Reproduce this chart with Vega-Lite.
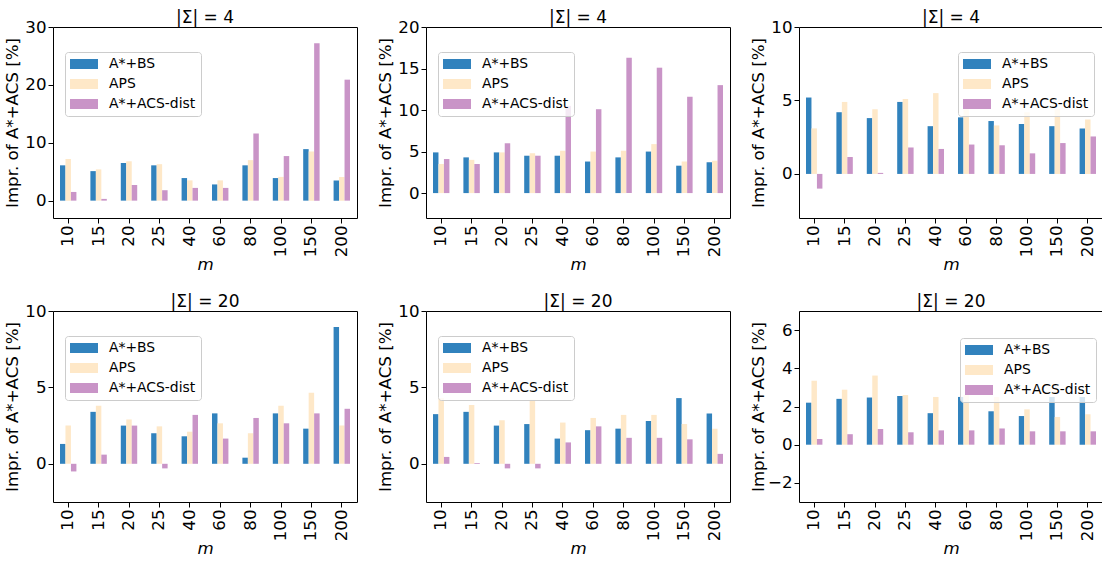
{
"$schema": "https://vega.github.io/schema/vega-lite/v6.json",
"background": "white",
"padding": {"left": 3, "top": 8, "right": 0, "bottom": 0},
"data": {"values": [
{"p":1,"m":"10","s":"A*+BS","v":6.1},{"p":1,"m":"15","s":"A*+BS","v":5.1},{"p":1,"m":"20","s":"A*+BS","v":6.5},{"p":1,"m":"25","s":"A*+BS","v":6.1},{"p":1,"m":"40","s":"A*+BS","v":3.9},{"p":1,"m":"60","s":"A*+BS","v":2.8},{"p":1,"m":"80","s":"A*+BS","v":6.1},{"p":1,"m":"100","s":"A*+BS","v":3.9},{"p":1,"m":"150","s":"A*+BS","v":8.9},{"p":1,"m":"200","s":"A*+BS","v":3.5},
{"p":1,"m":"10","s":"APS","v":7.2},{"p":1,"m":"15","s":"APS","v":5.4},{"p":1,"m":"20","s":"APS","v":6.8},{"p":1,"m":"25","s":"APS","v":6.3},{"p":1,"m":"40","s":"APS","v":3.5},{"p":1,"m":"60","s":"APS","v":3.5},{"p":1,"m":"80","s":"APS","v":7.0},{"p":1,"m":"100","s":"APS","v":4.1},{"p":1,"m":"150","s":"APS","v":8.5},{"p":1,"m":"200","s":"APS","v":4.1},
{"p":1,"m":"10","s":"A*+ACS-dist","v":1.5},{"p":1,"m":"15","s":"A*+ACS-dist","v":0.3},{"p":1,"m":"20","s":"A*+ACS-dist","v":2.7},{"p":1,"m":"25","s":"A*+ACS-dist","v":1.8},{"p":1,"m":"40","s":"A*+ACS-dist","v":2.2},{"p":1,"m":"60","s":"A*+ACS-dist","v":2.2},{"p":1,"m":"80","s":"A*+ACS-dist","v":11.6},{"p":1,"m":"100","s":"A*+ACS-dist","v":7.7},{"p":1,"m":"150","s":"A*+ACS-dist","v":27.2},{"p":1,"m":"200","s":"A*+ACS-dist","v":20.9},
{"p":2,"m":"10","s":"A*+BS","v":4.9},{"p":2,"m":"15","s":"A*+BS","v":4.3},{"p":2,"m":"20","s":"A*+BS","v":4.9},{"p":2,"m":"25","s":"A*+BS","v":4.5},{"p":2,"m":"40","s":"A*+BS","v":4.5},{"p":2,"m":"60","s":"A*+BS","v":3.8},{"p":2,"m":"80","s":"A*+BS","v":4.3},{"p":2,"m":"100","s":"A*+BS","v":5.0},{"p":2,"m":"150","s":"A*+BS","v":3.3},{"p":2,"m":"200","s":"A*+BS","v":3.7},
{"p":2,"m":"10","s":"APS","v":3.5},{"p":2,"m":"15","s":"APS","v":4.0},{"p":2,"m":"20","s":"APS","v":4.9},{"p":2,"m":"25","s":"APS","v":4.8},{"p":2,"m":"40","s":"APS","v":5.1},{"p":2,"m":"60","s":"APS","v":5.0},{"p":2,"m":"80","s":"APS","v":5.1},{"p":2,"m":"100","s":"APS","v":5.9},{"p":2,"m":"150","s":"APS","v":3.8},{"p":2,"m":"200","s":"APS","v":3.9},
{"p":2,"m":"10","s":"A*+ACS-dist","v":4.1},{"p":2,"m":"15","s":"A*+ACS-dist","v":3.5},{"p":2,"m":"20","s":"A*+ACS-dist","v":6.0},{"p":2,"m":"25","s":"A*+ACS-dist","v":4.5},{"p":2,"m":"40","s":"A*+ACS-dist","v":10.5},{"p":2,"m":"60","s":"A*+ACS-dist","v":10.1},{"p":2,"m":"80","s":"A*+ACS-dist","v":16.3},{"p":2,"m":"100","s":"A*+ACS-dist","v":15.1},{"p":2,"m":"150","s":"A*+ACS-dist","v":11.6},{"p":2,"m":"200","s":"A*+ACS-dist","v":13.0},
{"p":3,"m":"10","s":"A*+BS","v":5.2},{"p":3,"m":"15","s":"A*+BS","v":4.2},{"p":3,"m":"20","s":"A*+BS","v":3.8},{"p":3,"m":"25","s":"A*+BS","v":4.9},{"p":3,"m":"40","s":"A*+BS","v":3.25},{"p":3,"m":"60","s":"A*+BS","v":3.85},{"p":3,"m":"80","s":"A*+BS","v":3.6},{"p":3,"m":"100","s":"A*+BS","v":3.4},{"p":3,"m":"150","s":"A*+BS","v":3.25},{"p":3,"m":"200","s":"A*+BS","v":3.1},
{"p":3,"m":"10","s":"APS","v":3.1},{"p":3,"m":"15","s":"APS","v":4.9},{"p":3,"m":"20","s":"APS","v":4.4},{"p":3,"m":"25","s":"APS","v":5.1},{"p":3,"m":"40","s":"APS","v":5.5},{"p":3,"m":"60","s":"APS","v":4.4},{"p":3,"m":"80","s":"APS","v":3.3},{"p":3,"m":"100","s":"APS","v":4.2},{"p":3,"m":"150","s":"APS","v":4.4},{"p":3,"m":"200","s":"APS","v":3.7},
{"p":3,"m":"10","s":"A*+ACS-dist","v":-1.0},{"p":3,"m":"15","s":"A*+ACS-dist","v":1.15},{"p":3,"m":"20","s":"A*+ACS-dist","v":0.07},{"p":3,"m":"25","s":"A*+ACS-dist","v":1.8},{"p":3,"m":"40","s":"A*+ACS-dist","v":1.7},{"p":3,"m":"60","s":"A*+ACS-dist","v":2.0},{"p":3,"m":"80","s":"A*+ACS-dist","v":1.95},{"p":3,"m":"100","s":"A*+ACS-dist","v":1.4},{"p":3,"m":"150","s":"A*+ACS-dist","v":2.1},{"p":3,"m":"200","s":"A*+ACS-dist","v":2.55},
{"p":4,"m":"10","s":"A*+BS","v":1.3},{"p":4,"m":"15","s":"A*+BS","v":3.4},{"p":4,"m":"20","s":"A*+BS","v":2.5},{"p":4,"m":"25","s":"A*+BS","v":2.0},{"p":4,"m":"40","s":"A*+BS","v":1.8},{"p":4,"m":"60","s":"A*+BS","v":3.3},{"p":4,"m":"80","s":"A*+BS","v":0.4},{"p":4,"m":"100","s":"A*+BS","v":3.3},{"p":4,"m":"150","s":"A*+BS","v":2.3},{"p":4,"m":"200","s":"A*+BS","v":8.95},
{"p":4,"m":"10","s":"APS","v":2.5},{"p":4,"m":"15","s":"APS","v":3.8},{"p":4,"m":"20","s":"APS","v":2.9},{"p":4,"m":"25","s":"APS","v":2.45},{"p":4,"m":"40","s":"APS","v":2.1},{"p":4,"m":"60","s":"APS","v":2.65},{"p":4,"m":"80","s":"APS","v":2.0},{"p":4,"m":"100","s":"APS","v":3.8},{"p":4,"m":"150","s":"APS","v":4.65},{"p":4,"m":"200","s":"APS","v":2.5},
{"p":4,"m":"10","s":"A*+ACS-dist","v":-0.5},{"p":4,"m":"15","s":"A*+ACS-dist","v":0.6},{"p":4,"m":"20","s":"A*+ACS-dist","v":2.5},{"p":4,"m":"25","s":"A*+ACS-dist","v":-0.3},{"p":4,"m":"40","s":"A*+ACS-dist","v":3.2},{"p":4,"m":"60","s":"A*+ACS-dist","v":1.65},{"p":4,"m":"80","s":"A*+ACS-dist","v":3.0},{"p":4,"m":"100","s":"A*+ACS-dist","v":2.65},{"p":4,"m":"150","s":"A*+ACS-dist","v":3.3},{"p":4,"m":"200","s":"A*+ACS-dist","v":3.6},
{"p":5,"m":"10","s":"A*+BS","v":3.25},{"p":5,"m":"15","s":"A*+BS","v":3.4},{"p":5,"m":"20","s":"A*+BS","v":2.5},{"p":5,"m":"25","s":"A*+BS","v":2.6},{"p":5,"m":"40","s":"A*+BS","v":1.65},{"p":5,"m":"60","s":"A*+BS","v":2.2},{"p":5,"m":"80","s":"A*+BS","v":2.3},{"p":5,"m":"100","s":"A*+BS","v":2.8},{"p":5,"m":"150","s":"A*+BS","v":4.3},{"p":5,"m":"200","s":"A*+BS","v":3.3},
{"p":5,"m":"10","s":"APS","v":4.3},{"p":5,"m":"15","s":"APS","v":3.85},{"p":5,"m":"20","s":"APS","v":2.85},{"p":5,"m":"25","s":"APS","v":4.2},{"p":5,"m":"40","s":"APS","v":2.7},{"p":5,"m":"60","s":"APS","v":3.0},{"p":5,"m":"80","s":"APS","v":3.2},{"p":5,"m":"100","s":"APS","v":3.2},{"p":5,"m":"150","s":"APS","v":2.6},{"p":5,"m":"200","s":"APS","v":2.3},
{"p":5,"m":"10","s":"A*+ACS-dist","v":0.45},{"p":5,"m":"15","s":"A*+ACS-dist","v":0.05},{"p":5,"m":"20","s":"A*+ACS-dist","v":-0.3},{"p":5,"m":"25","s":"A*+ACS-dist","v":-0.3},{"p":5,"m":"40","s":"A*+ACS-dist","v":1.4},{"p":5,"m":"60","s":"A*+ACS-dist","v":2.45},{"p":5,"m":"80","s":"A*+ACS-dist","v":1.7},{"p":5,"m":"100","s":"A*+ACS-dist","v":1.7},{"p":5,"m":"150","s":"A*+ACS-dist","v":1.6},{"p":5,"m":"200","s":"A*+ACS-dist","v":0.65},
{"p":6,"m":"10","s":"A*+BS","v":2.2},{"p":6,"m":"15","s":"A*+BS","v":2.4},{"p":6,"m":"20","s":"A*+BS","v":2.47},{"p":6,"m":"25","s":"A*+BS","v":2.55},{"p":6,"m":"40","s":"A*+BS","v":1.65},{"p":6,"m":"60","s":"A*+BS","v":2.5},{"p":6,"m":"80","s":"A*+BS","v":1.75},{"p":6,"m":"100","s":"A*+BS","v":1.5},{"p":6,"m":"150","s":"A*+BS","v":2.5},{"p":6,"m":"200","s":"A*+BS","v":2.5},
{"p":6,"m":"10","s":"APS","v":3.35},{"p":6,"m":"15","s":"APS","v":2.88},{"p":6,"m":"20","s":"APS","v":3.62},{"p":6,"m":"25","s":"APS","v":2.6},{"p":6,"m":"40","s":"APS","v":2.5},{"p":6,"m":"60","s":"APS","v":2.6},{"p":6,"m":"80","s":"APS","v":2.5},{"p":6,"m":"100","s":"APS","v":1.85},{"p":6,"m":"150","s":"APS","v":1.45},{"p":6,"m":"200","s":"APS","v":1.6},
{"p":6,"m":"10","s":"A*+ACS-dist","v":0.3},{"p":6,"m":"15","s":"A*+ACS-dist","v":0.55},{"p":6,"m":"20","s":"A*+ACS-dist","v":0.82},{"p":6,"m":"25","s":"A*+ACS-dist","v":0.65},{"p":6,"m":"40","s":"A*+ACS-dist","v":0.75},{"p":6,"m":"60","s":"A*+ACS-dist","v":0.75},{"p":6,"m":"80","s":"A*+ACS-dist","v":0.85},{"p":6,"m":"100","s":"A*+ACS-dist","v":0.7},{"p":6,"m":"150","s":"A*+ACS-dist","v":0.7},{"p":6,"m":"200","s":"A*+ACS-dist","v":0.7}
]},
"columns": 3,
"spacing": {"row": 93, "column": 69},
"bounds": "flush",
"resolve": {"scale": {"x": "independent", "y": "independent", "xOffset": "independent", "color": "independent"}, "legend": {"color": "independent"}},
"concat": [
{"width": 304, "height": 191, "title": {"text": "|Σ| = 4", "frame": "group"}, "transform": [{"filter": "datum.p == 1"}], "mark": "bar",
 "encoding": {
  "x": {"field": "m", "type": "nominal", "sort": ["10","15","20","25","40","60","80","100","150","200"], "scale": {"paddingInner": 0.46, "paddingOuter": 0.23}, "axis": {"title": "m", "labelAngle": -90, "labelFontSize": 16.67, "titleFontSize": 16.67, "titleFontStyle": "italic", "labelPadding": 2, "titlePadding": 0}},
  "xOffset": {"field": "s", "type": "nominal", "sort": ["A*+BS","APS","A*+ACS-dist"], "scale": {"paddingInner": 0, "paddingOuter": 0}},
  "y": {"field": "v", "type": "quantitative", "scale": {"domain": [-3, 30], "nice": false, "zero": false}, "axis": {"values": [0, 10, 20, 30], "title": "Impr. of A*+ACS [%]", "titleX": -35.5, "titleBaseline": "alphabetic", "labelFontSize": 16.67, "titleFontSize": 16.67, "labelPadding": 2}},
  "color": {"field": "s", "type": "nominal", "scale": {"domain": ["A*+BS","APS","A*+ACS-dist"], "range": ["#3182bd","#fee8c8","#c994c7"]}, "legend": {"orient": "none", "legendX": 12, "legendY": 25}}
 }},
{"width": 304, "height": 191, "title": {"text": "|Σ| = 4", "frame": "group"}, "transform": [{"filter": "datum.p == 2"}], "mark": "bar",
 "encoding": {
  "x": {"field": "m", "type": "nominal", "sort": ["10","15","20","25","40","60","80","100","150","200"], "scale": {"paddingInner": 0.46, "paddingOuter": 0.23}, "axis": {"title": "m", "labelAngle": -90, "labelFontSize": 16.67, "titleFontSize": 16.67, "titleFontStyle": "italic", "labelPadding": 2, "titlePadding": 0}},
  "xOffset": {"field": "s", "type": "nominal", "sort": ["A*+BS","APS","A*+ACS-dist"], "scale": {"paddingInner": 0, "paddingOuter": 0}},
  "y": {"field": "v", "type": "quantitative", "scale": {"domain": [-3, 20], "nice": false, "zero": false}, "axis": {"values": [0, 5, 10, 15, 20], "title": "Impr. of A*+ACS [%]", "titleX": -35.5, "titleBaseline": "alphabetic", "labelFontSize": 16.67, "titleFontSize": 16.67, "labelPadding": 2}},
  "color": {"field": "s", "type": "nominal", "scale": {"domain": ["A*+BS","APS","A*+ACS-dist"], "range": ["#3182bd","#fee8c8","#c994c7"]}, "legend": {"orient": "none", "legendX": 12, "legendY": 25}}
 }},
{"width": 304, "height": 191, "title": {"text": "|Σ| = 4", "frame": "group"}, "transform": [{"filter": "datum.p == 3"}], "mark": "bar",
 "encoding": {
  "x": {"field": "m", "type": "nominal", "sort": ["10","15","20","25","40","60","80","100","150","200"], "scale": {"paddingInner": 0.46, "paddingOuter": 0.23}, "axis": {"title": "m", "labelAngle": -90, "labelFontSize": 16.67, "titleFontSize": 16.67, "titleFontStyle": "italic", "labelPadding": 2, "titlePadding": 0}},
  "xOffset": {"field": "s", "type": "nominal", "sort": ["A*+BS","APS","A*+ACS-dist"], "scale": {"paddingInner": 0, "paddingOuter": 0}},
  "y": {"field": "v", "type": "quantitative", "scale": {"domain": [-3, 10], "nice": false, "zero": false}, "axis": {"values": [0, 5, 10], "title": "Impr. of A*+ACS [%]", "titleX": -35.5, "titleBaseline": "alphabetic", "labelFontSize": 16.67, "titleFontSize": 16.67, "labelPadding": 2}},
  "color": {"field": "s", "type": "nominal", "scale": {"domain": ["A*+BS","APS","A*+ACS-dist"], "range": ["#3182bd","#fee8c8","#c994c7"]}, "legend": {"orient": "none", "legendX": 159, "legendY": 25}}
 }},
{"width": 304, "height": 191, "title": {"text": "|Σ| = 20", "frame": "group"}, "transform": [{"filter": "datum.p == 4"}], "mark": "bar",
 "encoding": {
  "x": {"field": "m", "type": "nominal", "sort": ["10","15","20","25","40","60","80","100","150","200"], "scale": {"paddingInner": 0.46, "paddingOuter": 0.23}, "axis": {"title": "m", "labelAngle": -90, "labelFontSize": 16.67, "titleFontSize": 16.67, "titleFontStyle": "italic", "labelPadding": 2, "titlePadding": 0}},
  "xOffset": {"field": "s", "type": "nominal", "sort": ["A*+BS","APS","A*+ACS-dist"], "scale": {"paddingInner": 0, "paddingOuter": 0}},
  "y": {"field": "v", "type": "quantitative", "scale": {"domain": [-2.5, 10], "nice": false, "zero": false}, "axis": {"values": [0, 5, 10], "title": "Impr. of A*+ACS [%]", "titleX": -35.5, "titleBaseline": "alphabetic", "labelFontSize": 16.67, "titleFontSize": 16.67, "labelPadding": 2}},
  "color": {"field": "s", "type": "nominal", "scale": {"domain": ["A*+BS","APS","A*+ACS-dist"], "range": ["#3182bd","#fee8c8","#c994c7"]}, "legend": {"orient": "none", "legendX": 12, "legendY": 25}}
 }},
{"width": 304, "height": 191, "title": {"text": "|Σ| = 20", "frame": "group"}, "transform": [{"filter": "datum.p == 5"}], "mark": "bar",
 "encoding": {
  "x": {"field": "m", "type": "nominal", "sort": ["10","15","20","25","40","60","80","100","150","200"], "scale": {"paddingInner": 0.46, "paddingOuter": 0.23}, "axis": {"title": "m", "labelAngle": -90, "labelFontSize": 16.67, "titleFontSize": 16.67, "titleFontStyle": "italic", "labelPadding": 2, "titlePadding": 0}},
  "xOffset": {"field": "s", "type": "nominal", "sort": ["A*+BS","APS","A*+ACS-dist"], "scale": {"paddingInner": 0, "paddingOuter": 0}},
  "y": {"field": "v", "type": "quantitative", "scale": {"domain": [-2.5, 10], "nice": false, "zero": false}, "axis": {"values": [0, 5, 10], "title": "Impr. of A*+ACS [%]", "titleX": -35.5, "titleBaseline": "alphabetic", "labelFontSize": 16.67, "titleFontSize": 16.67, "labelPadding": 2}},
  "color": {"field": "s", "type": "nominal", "scale": {"domain": ["A*+BS","APS","A*+ACS-dist"], "range": ["#3182bd","#fee8c8","#c994c7"]}, "legend": {"orient": "none", "legendX": 12, "legendY": 25}}
 }},
{"width": 304, "height": 191, "title": {"text": "|Σ| = 20", "frame": "group", "dy": 4}, "transform": [{"filter": "datum.p == 6"}], "mark": "bar",
 "encoding": {
  "x": {"field": "m", "type": "nominal", "sort": ["10","15","20","25","40","60","80","100","150","200"], "scale": {"paddingInner": 0.46, "paddingOuter": 0.23}, "axis": {"title": "m", "labelAngle": -90, "labelFontSize": 16.67, "titleFontSize": 16.67, "titleFontStyle": "italic", "labelPadding": 2, "titlePadding": 0}},
  "xOffset": {"field": "s", "type": "nominal", "sort": ["A*+BS","APS","A*+ACS-dist"], "scale": {"paddingInner": 0, "paddingOuter": 0}},
  "y": {"field": "v", "type": "quantitative", "scale": {"domain": [-3, 7], "nice": false, "zero": false}, "axis": {"values": [-2, 0, 2, 4, 6], "title": "Impr. of A*+ACS [%]", "titleX": -35.5, "titleBaseline": "alphabetic", "labelFontSize": 16.67, "titleFontSize": 16.67, "labelPadding": 2}},
  "color": {"field": "s", "type": "nominal", "scale": {"domain": ["A*+BS","APS","A*+ACS-dist"], "range": ["#3182bd","#fee8c8","#c994c7"]}, "legend": {"orient": "none", "legendX": 161, "legendY": 27}}
 }}
],
"config": {
 "font": "DejaVu Sans",
 "view": {"stroke": "#000", "strokeWidth": 1},
 "title": {"fontSize": 17, "fontWeight": "normal", "color": "#000", "offset": 0, "dy": 12},
 "axis": {"labelColor": "#000", "titleColor": "#000", "tickColor": "#000", "tickSize": 5, "tickWidth": 1, "domain": false, "grid": false, "titleFontWeight": "normal"},
 "legend": {"title": null, "symbolType": "M-1,-0.36H1V0.36H-1Z", "symbolSize": 784, "symbolStrokeWidth": 0, "symbolOpacity": 1, "labelFontSize": 13.9, "labelColor": "#000", "labelOffset": 11, "padding": 5, "rowPadding": 6, "clipHeight": 14, "strokeColor": "#cccccc", "fillColor": "rgba(255,255,255,0.8)", "cornerRadius": 3}
}
}
